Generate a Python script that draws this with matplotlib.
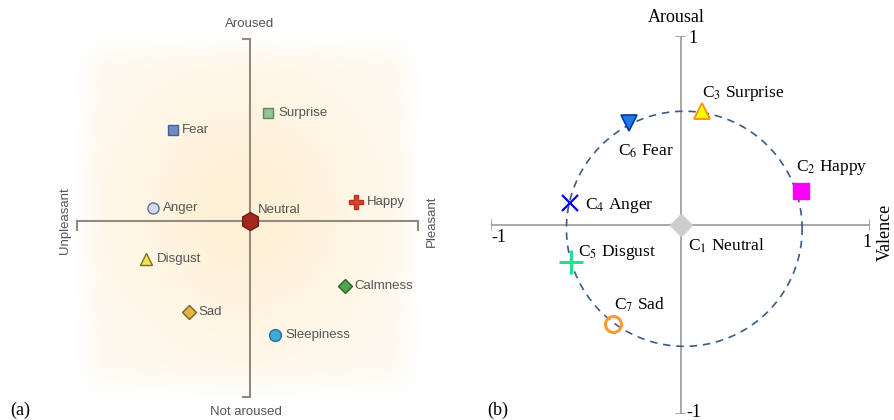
import numpy as np
import matplotlib
matplotlib.use("Agg")
import matplotlib.pyplot as plt

plt.rcParams["mathtext.fontset"] = "stix"

# --- panel (a): emotions on the valence / arousal plane
a_names = ["Surprise", "Fear", "Anger", "Neutral", "Happy",
           "Disgust", "Calmness", "Sad", "Sleepiness"]
a_valence = [0.10, -0.43, -0.54, 0.0, 0.59, -0.58, 0.53, -0.34, 0.14]
a_arousal = [0.57, 0.48, 0.07, 0.0, 0.10, -0.20, -0.34, -0.48, -0.60]

# --- panel (b): seven classes on a circle
b_names = [r"C$_{\mathrm{1}}$ Neutral", r"C$_{\mathrm{2}}$ Happy",
           r"C$_{\mathrm{3}}$ Surprise", r"C$_{\mathrm{4}}$ Anger",
           r"C$_{\mathrm{5}}$ Disgust", r"C$_{\mathrm{6}}$ Fear",
           r"C$_{\mathrm{7}}$ Sad"]
b_valence = [0.0, 0.637, 0.114, -0.585, -0.58, -0.27, -0.357]
b_arousal = [0.0, 0.18, 0.605, 0.118, -0.197, 0.54, -0.523]
circle_center = (0.02, -0.02)
circle_radius = 0.622

a_styles = [
    dict(marker="s", ms=6.5, mfc="#93c293", mec="#5b8b5b"),
    dict(marker="s", ms=6.5, mfc="#6f8fc4", mec="#3f5f9a"),
    dict(marker="o", ms=8, mfc="#d3dbea", mec="#5f6f9f"),
    dict(marker="h", ms=13, mfc="#a4281f", mec="#6e1a12"),
    dict(marker="P", ms=10, mfc="#d8412e", mec="#b8301e"),
    dict(marker="^", ms=8.5, mfc="#f2e35a", mec="#7d6d1e"),
    dict(marker="D", ms=7, mfc="#52a352", mec="#2f6130"),
    dict(marker="D", ms=7, mfc="#e3b443", mec="#815f1f"),
    dict(marker="o", ms=8.5, mfc="#3fa9d9", mec="#1f6f9f"),
]
a_offsets = [(10, 0), (9, 0), (10, 0), (8, 11), (11, 0),
             (11, 0), (9, 0), (10, 0), (10, 0)]

b_styles = [
    dict(marker="D", ms=11, mfc="#cdcdcd", mec="#cdcdcd", mew=1),
    dict(marker="s", ms=11, mfc="#ff00ff", mec="#ff00ff", mew=1),
    dict(marker="^", ms=12, mfc="#ffff00", mec="#ff8c1a", mew=1.3),
    dict(marker="x", ms=11, mfc="none", mec="#0000ff", mew=1.6),
    dict(marker="+", ms=17, mfc="none", mec="#22e08f", mew=2.2),
    dict(marker="v", ms=12, mfc="#1f78f0", mec="#003a99", mew=1.2),
    dict(marker="o", ms=11.5, mfc="none", mec="#ff9933", mew=2.2),
]
b_offsets = [(7, -21), (-5, 23), (0, 17), (15, -3), (7, 10), (-11, -28), (1, 19)]

fig = plt.figure(figsize=(8.94, 4.2), dpi=100)
W, H = 894.0, 420.0


def px_axes(x0, x1, y0, y1):
    # axes placed with pixel edges (top-down y)
    return fig.add_axes([x0 / W, (H - y1) / H, (x1 - x0) / W, (y1 - y0) / H])


# ---------------- (a)
ax = px_axes(70, 430, 31, 411)
ax.set_xlim(-1, 1)
ax.set_ylim(-1, 1)
ax.axis("off")

# soft warm square behind the plane
gx = np.linspace(-0.99, 0.97, 300)
gy = np.linspace(-0.96, 1.0, 300)
X, Y = np.meshgrid(gx, gy)
r2 = (X + 0.03) ** 2 + (Y - 0.05) ** 2
edge = np.clip((0.98 - np.abs(X + 0.01)) / 0.18, 0, 1) * np.clip((0.98 - np.abs(Y - 0.02)) / 0.2, 0, 1)
f = edge * (0.11 + 0.27 * np.exp(-r2 / 0.55))
img = np.zeros(X.shape + (4,))
img[..., 0] = 0.99
img[..., 1] = 0.85
img[..., 2] = 0.57
img[..., 3] = f
ax.imshow(img, extent=(gx[0], gx[-1], gy[0], gy[-1]), origin="lower",
          aspect="auto", interpolation="bilinear", zorder=0)

axis_col = "#928a7c"
ax.plot([-0.961, 0.933], [0, 0], color=axis_col, lw=1.5, zorder=1)
ax.plot([0, 0], [-0.926, 0.958], color=axis_col, lw=1.5, zorder=1)
ax.plot([-0.961, -0.961], [0, -0.045], color=axis_col, lw=1.5)
ax.plot([0.933, 0.933], [0, -0.045], color=axis_col, lw=1.5)
ax.plot([0, -0.04], [0.958, 0.958], color=axis_col, lw=1.5)
ax.plot([0, -0.04], [-0.926, -0.926], color=axis_col, lw=1.5)

sans = ["Liberation Sans", "DejaVu Sans"]
txt_col = "#555555"
for name, vx, vy, st, off in zip(a_names, a_valence, a_arousal, a_styles, a_offsets):
    ax.plot(vx, vy, linestyle="none", zorder=3, **st)
    ax.annotate(name, (vx, vy), xytext=off, textcoords="offset pixels",
                ha="left", va="center", fontsize=9.5, color=txt_col,
                family=sans)

ax.text(0, 1.036, "Aroused", ha="center", va="center", fontsize=9.5,
        color=txt_col, family=sans)
ax.text(-0.02, -1.005, "Not aroused", ha="center", va="center", fontsize=9.5,
        color=txt_col, family=sans, clip_on=False)
ax.text(-1.03, 0, "Unpleasant", rotation=90, ha="center", va="center",
        fontsize=9.5, color=txt_col, family=sans)
ax.text(1.01, 0, "Pleasant", rotation=90, ha="center", va="center",
        fontsize=9.5, color=txt_col, family=sans)

# ---------------- (b)
bx = px_axes(491, 870, 36, 414)
bx.set_xlim(-1, 1)
bx.set_ylim(-1, 1)
bx.axis("off")

serif = ["Liberation Serif", "DejaVu Serif"]
gcol = "#999999"
bx.plot([-1, 1], [0, 0], color=gcol, lw=1.2, zorder=1)
bx.plot([0, 0], [-1, 1], color=gcol, lw=1.2, zorder=1)
cap = 0.025
for s in (-1, 1):
    bx.plot([s, s], [-cap, cap], color=gcol, lw=1.2)
    bx.plot([-cap, cap], [s, s], color=gcol, lw=1.2)

t = np.linspace(0, 2 * np.pi, 400)
bx.plot(circle_center[0] + circle_radius * np.cos(t),
        circle_center[1] + circle_radius * np.sin(t),
        color="#3b5a8a", lw=1.2, ls=(0, (4.5, 3.5)), zorder=2)

for name, vx, vy, st, off in zip(b_names, b_valence, b_arousal, b_styles, b_offsets):
    bx.plot(vx, vy, linestyle="none", zorder=4, clip_on=False, **st)
    bx.annotate(name, (vx, vy), xytext=off, textcoords="offset pixels",
                ha="left", va="center", fontsize=12.5, family=serif)

bx.text(0.065, 0.985, "1", ha="center", va="center", fontsize=13, family=serif)
bx.text(-0.96, -0.065, "-1", ha="center", va="center", fontsize=13, family=serif)
bx.text(0.985, -0.095, "1", ha="center", va="center", fontsize=13, family=serif)
bx.text(0.07, -0.99, "-1", ha="center", va="center", fontsize=13, family=serif,
        clip_on=False)
bx.text(-0.02, 1.10, "Arousal", ha="center", va="center", fontsize=13,
        family=serif, clip_on=False)
bx.text(1.082, -0.04, "Valence", rotation=90, ha="center", va="center",
        fontsize=13, family=serif, clip_on=False)

fig.text(20 / W, 1 - 410 / H, "(a)", ha="center", va="center", fontsize=13,
         family=serif)
fig.text(498 / W, 1 - 410 / H, "(b)", ha="center", va="center", fontsize=13,
         family=serif)

fig.savefig("out.png", dpi=100)
